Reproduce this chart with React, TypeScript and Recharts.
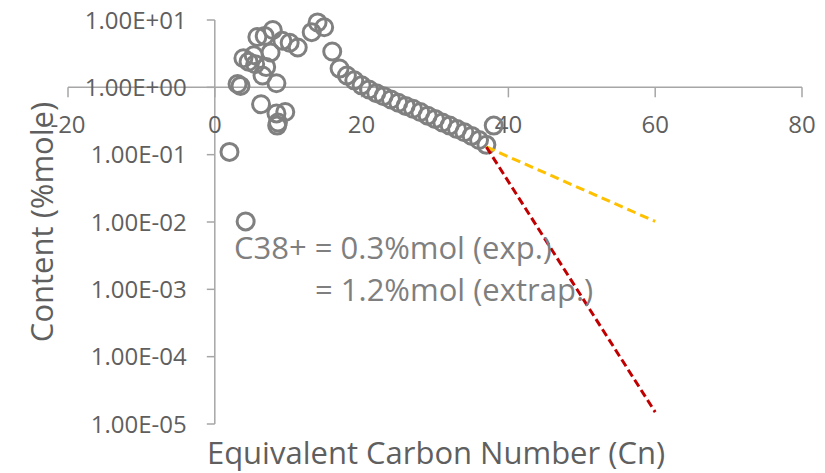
import React from 'react';
import { ScatterChart, Scatter, XAxis, YAxis, ReferenceLine, ReferenceDot } from 'recharts';

// Measured single-carbon-number distribution (equivalent carbon number, %mole)
const measuredCn = [
  2.0, 3.1, 3.5, 4.2, 3.9, 4.6, 5.3, 5.5, 5.8, 6.8, 7.9, 6.5, 7.0, 7.6, 8.4, 6.3, 8.4, 9.6, 8.6, 8.5,
  9.2, 10.2, 11.3, 13.2, 14.0, 14.9, 16, 17, 18, 19, 20, 21, 22, 23, 24, 25, 26, 27, 28, 29, 30, 31,
  32, 33, 34, 35, 36, 37,
];
const measuredContent = [
  0.11, 1.12, 1.05, 0.0102, 2.7, 2.4, 3.0, 2.2, 5.6, 5.8, 7.1, 1.5, 2.0, 3.3, 1.15, 0.56, 0.41, 0.43, 0.3, 0.27,
  4.9, 4.6, 3.9, 6.6, 9.2, 7.8, 3.4, 1.9, 1.5, 1.27, 1.07, 0.93, 0.82, 0.74, 0.66, 0.59, 0.53, 0.48, 0.43, 0.38,
  0.34, 0.3, 0.27, 0.24, 0.215, 0.19, 0.165, 0.14,
];
// C38+ lumped experimental value
const plusCn = [38];
const plusContent = [0.27];
// Extrapolation lines
const extrapCn = [37, 60];
const expTrendContent = [0.13, 0.0102];
const extrapTrendContent = [0.13, 1.5e-5];

const xTicks = [-20, 0, 20, 40, 60, 80];
const yTicks = [1e-5, 1e-4, 1e-3, 1e-2, 1e-1, 1, 10];

const toPoints = (xs: number[], ys: number[]) => xs.map((x, i) => ({ x, y: ys[i] }));
const measuredData = toPoints(measuredCn, measuredContent);
const plusData = toPoints(plusCn, plusContent);
const expTrendData = toPoints(extrapCn, expTrendContent);
const extrapTrendData = toPoints(extrapCn, extrapTrendContent);

const FONT = "'Open Sans', 'DejaVu Sans', sans-serif";
const TEXT = '#5f5f5f';
const AXIS = '#a6a6a6';
const MARK = '#808080';

const fmtExp = (v: number) => {
  const [m, e] = v.toExponential(2).split('e');
  const sign = e[0] === '-' ? '-' : '+';
  const digits = e.replace(/[+-]/, '').padStart(2, '0');
  return `${m}E${sign}${digits}`;
};

const Ring = (p: any) => (
  <circle cx={p.cx} cy={p.cy} r={8.5} fill="none" stroke={MARK} strokeWidth={3} />
);
const Nothing = () => <g />;

export default function App() {
  return (
    <div style={{ position: 'absolute', left: 0, top: 0, width: 825, height: 473, background: '#fff' }}>
      <ScatterChart width={825} height={473} margin={{ top: 20, right: 23, bottom: 49, left: 68 }}>
        <XAxis type="number" dataKey="x" domain={[-20, 80]} ticks={xTicks} hide />
        <YAxis type="number" dataKey="y" scale="log" domain={[1e-5, 10]} ticks={yTicks} hide />
        <ReferenceLine x={0} stroke={AXIS} strokeWidth={1.5} />
        <ReferenceLine y={1} stroke={AXIS} strokeWidth={1.5} />
        {yTicks.map((t) => (
          <ReferenceDot
            key={'y' + t}
            x={0}
            y={t}
            r={0}
            shape={(p: any) => (
              <g>
                <line x1={p.cx - 8} x2={p.cx} y1={p.cy} y2={p.cy} stroke={AXIS} strokeWidth={1.5} />
                <text x={p.cx - 28} y={p.cy} dy="0.36em" textAnchor="end" fontFamily={FONT} fontSize={24} fill={TEXT}>
                  {fmtExp(t)}
                </text>
              </g>
            )}
          />
        ))}
        {xTicks.map((t) => (
          <ReferenceDot
            key={'x' + t}
            x={t}
            y={1}
            r={0}
            shape={(p: any) => (
              <g>
                <line x1={p.cx} x2={p.cx} y1={p.cy} y2={p.cy + 10} stroke={AXIS} strokeWidth={1.5} />
                <text x={p.cx} y={p.cy + 46} textAnchor="middle" fontFamily={FONT} fontSize={24} fill={TEXT}>
                  {t}
                </text>
              </g>
            )}
          />
        ))}
        <Scatter data={measuredData} shape={Ring} isAnimationActive={false} />
        <Scatter data={plusData} shape={Ring} isAnimationActive={false} />
        <Scatter
          data={expTrendData}
          shape={Nothing}
          line={{ stroke: '#FFC000', strokeWidth: 3, strokeDasharray: '9 5' }}
          isAnimationActive={false}
        />
        <Scatter
          data={extrapTrendData}
          shape={Nothing}
          line={{ stroke: '#C00000', strokeWidth: 3, strokeDasharray: '8 4' }}
          isAnimationActive={false}
        />
      </ScatterChart>
      <svg width={825} height={473} style={{ position: 'absolute', left: 0, top: 0, pointerEvents: 'none' }}>
        <text x={436} y={464} textAnchor="middle" fontFamily={FONT} fontSize={31} fill={TEXT}>
          Equivalent Carbon Number (Cn)
        </text>
        <text
          x={53}
          y={222}
          textAnchor="middle"
          transform="rotate(-90 53 222)"
          fontFamily={FONT}
          fontSize={31}
          fill={TEXT}
        >
          Content (%mole)
        </text>
        <text x={234} y={259} fontFamily={FONT} fontSize={31} fill="#7f7f7f">
          C38+ = 0.3%mol (exp.)
        </text>
        <text x={315} y={301} fontFamily={FONT} fontSize={31} fill="#7f7f7f">
          = 1.2%mol (extrap.)
        </text>
      </svg>
    </div>
  );
}
